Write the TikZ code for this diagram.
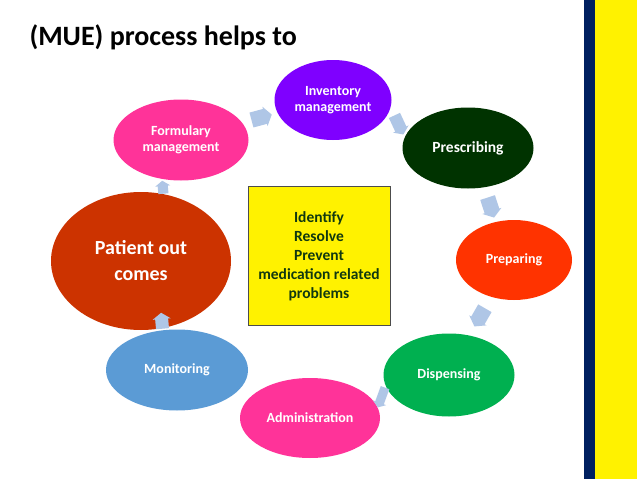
\documentclass[tikz,border=0pt]{standalone}
\usepackage{fontspec}
\setmainfont{Carlito}
\usetikzlibrary{shapes.geometric,shapes.arrows}
\definecolor{invcol}{HTML}{7F00FF}
\definecolor{prescol}{HTML}{003300}
\definecolor{prepcol}{HTML}{FF3300}
\definecolor{dispcol}{HTML}{00B050}
\definecolor{pinkcol}{HTML}{FF3399}
\definecolor{moncol}{HTML}{5B9BD5}
\definecolor{patcol}{HTML}{CC3300}
\definecolor{arrcol}{HTML}{AFC6E6}
\definecolor{navycol}{HTML}{002060}
\definecolor{boxtext}{HTML}{103810}
\tikzset{
stage/.style={
  ellipse,
  inner sep=0pt,
  text=white,
  align=center,
  font=\bfseries\fontsize{14}{15.5}\selectfont
  },
flowarrow/.style={
  single arrow,
  fill=arrcol,
  draw=none,
  minimum height=21pt,
  minimum width=20pt,
  inner xsep=1pt,
  inner ysep=6.5pt,
  single arrow head extend=2pt,
  single arrow tip angle=110,
  rotate=#1
  }
}

\begin{document}
\begin{tikzpicture}[x=1pt, y=-1pt]
\useasboundingbox[fill=white] (0,0) rectangle (638,479);
% side bar
\fill[navycol] (584,0) rectangle (595,479);
\fill[yellow] (595,0) rectangle (637,479);

\node[anchor=west, font=\bfseries\fontsize{28}{32}\selectfont] (title)
  at (26,37) {(MUE) process helps to};

\node[stage, fill=invcol, minimum width=117pt, minimum height=80pt] (inv)
  at (333,100) {Inventory\\management};
\node[stage, fill=prescol, minimum width=131pt, minimum height=81pt,
  font=\bfseries\fontsize{15.5}{17}\selectfont] (pres)
  at (468,148) {Prescribing};
\node[stage, fill=prepcol, minimum width=116pt, minimum height=80pt] (prep)
  at (514,260) {Preparing};
\node[stage, fill=dispcol, minimum width=131pt, minimum height=83pt] (disp)
  at (449,375) {Dispensing};
\node[stage, fill=pinkcol, minimum width=140pt, minimum height=80pt] (admin)
  at (310,418) {Administration};
\node[stage, fill=moncol, minimum width=142pt, minimum height=81pt] (mon)
  at (177,370) {Monitoring};
\node[stage, fill=patcol, minimum width=180pt, minimum height=138pt,
  font=\bfseries\fontsize{20}{26}\selectfont] (pat)
  at (141,261) {Patient out\\comes};
\node[stage, fill=pinkcol, minimum width=135pt, minimum height=81pt] (form)
  at (181,140) {Formulary\\management};

\node[draw=black!70, fill=yellow, minimum width=142pt, minimum height=139pt,
  text=boxtext, align=center, font=\bfseries\fontsize{15.5}{19}\selectfont] (goal)
  at (319,256) {Identify\\Resolve\\Prevent\\medication related\\problems};

% arrows between the stages
\node[flowarrow=15] (a1) at (259,118) {};
\node[flowarrow=-65, minimum width=17pt, inner ysep=5pt] (a2) at (398,123) {};
\node[flowarrow=-72] (a3) at (490,205) {};
\node[flowarrow=-120] (a4) at (481,315) {};
\node[flowarrow=-110, minimum width=14pt, inner ysep=3.5pt] (a5) at (382,396) {};
\node[flowarrow=95, minimum height=16pt, minimum width=18pt, inner ysep=5pt] (a6) at (162,323) {};
\node[flowarrow=95, minimum height=13pt, minimum width=15pt, inner ysep=4pt] (a7) at (163,189) {};
\end{tikzpicture}
\end{document}
